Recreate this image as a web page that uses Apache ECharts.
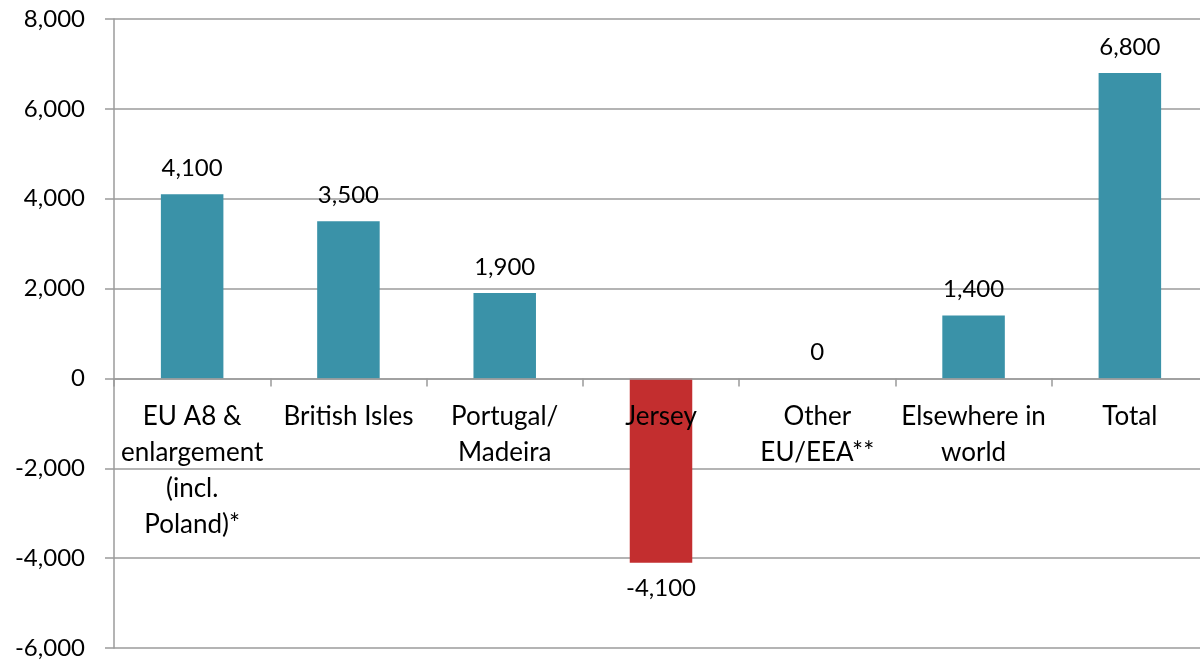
<!DOCTYPE html>
<html>
<head>
<meta charset="utf-8">
<script src="https://cdn.jsdelivr.net/npm/echarts@6/dist/echarts.min.js"></script>
<style>html,body{margin:0;padding:0;background:#fff}#c{width:1200px;height:662px}</style>
</head>
<body>
<div id="c"></div>
<script>
const categories = ['EU A8 &\nenlargement\n(incl.\nPoland)*', 'British Isles', 'Portugal/\nMadeira', 'Jersey', 'Other\nEU/EEA**', 'Elsewhere in\nworld', 'Total'];
const values = [4100, 3500, 1900, -4100, 0, 1400, 6800];
const yTicks = { min: -6000, max: 8000, interval: 2000 };
const teal = '#3A92A8';
const red = '#C32E2F';
const FONT = 'Lato';
const FS = 24;
const TOP = 19, BOTTOM = 14, H = 662;
const plotH = H - TOP - BOTTOM;
const zeroOffset = -plotH * (0 - yTicks.min) / (yTicks.max - yTicks.min);

const chart = echarts.init(document.getElementById('c'));
chart.setOption({
  animation: false,
  textStyle: { fontFamily: FONT },
  grid: { left: 114, right: -8, top: TOP, bottom: BOTTOM, containLabel: false, outerBoundsMode: 'none' },
  xAxis: {
    type: 'category',
    data: categories,
    z: 5,
    offset: zeroOffset,
    axisLine: { onZero: false, lineStyle: { color: '#9B9B9B', width: 1.5 } },
    axisTick: { show: true, length: 8, lineStyle: { color: '#9B9B9B', width: 1.5 } },
    axisLabel: { color: '#000', fontSize: 26, fontFamily: FONT, lineHeight: 36, margin: 20, interval: 0, hideOverlap: false }
  },
  yAxis: {
    type: 'value',
    min: yTicks.min, max: yTicks.max, interval: yTicks.interval,
    axisLine: { show: true, lineStyle: { color: '#9B9B9B', width: 1.5 } },
    axisTick: { show: true, length: 9, lineStyle: { color: '#9B9B9B', width: 1.5 } },
    splitLine: { show: true, lineStyle: { color: '#9B9B9B', width: 1.5 } },
    axisLabel: {
      color: '#000', fontSize: FS, fontFamily: FONT, margin: 29,
      formatter: v => v.toLocaleString('en-US')
    }
  },
  series: [{
    type: 'bar',
    barWidth: '40%',
    data: values.map(v => ({
      value: v,
      itemStyle: { color: v < 0 ? red : teal },
      label: v < 0 ? { position: 'bottom' } : undefined
    })),
    label: {
      show: true, position: 'top', distance: 14, color: '#000', fontSize: FS, fontFamily: FONT,
      formatter: p => p.value.toLocaleString('en-US')
    }
  }]
});
</script>
</body>
</html>
